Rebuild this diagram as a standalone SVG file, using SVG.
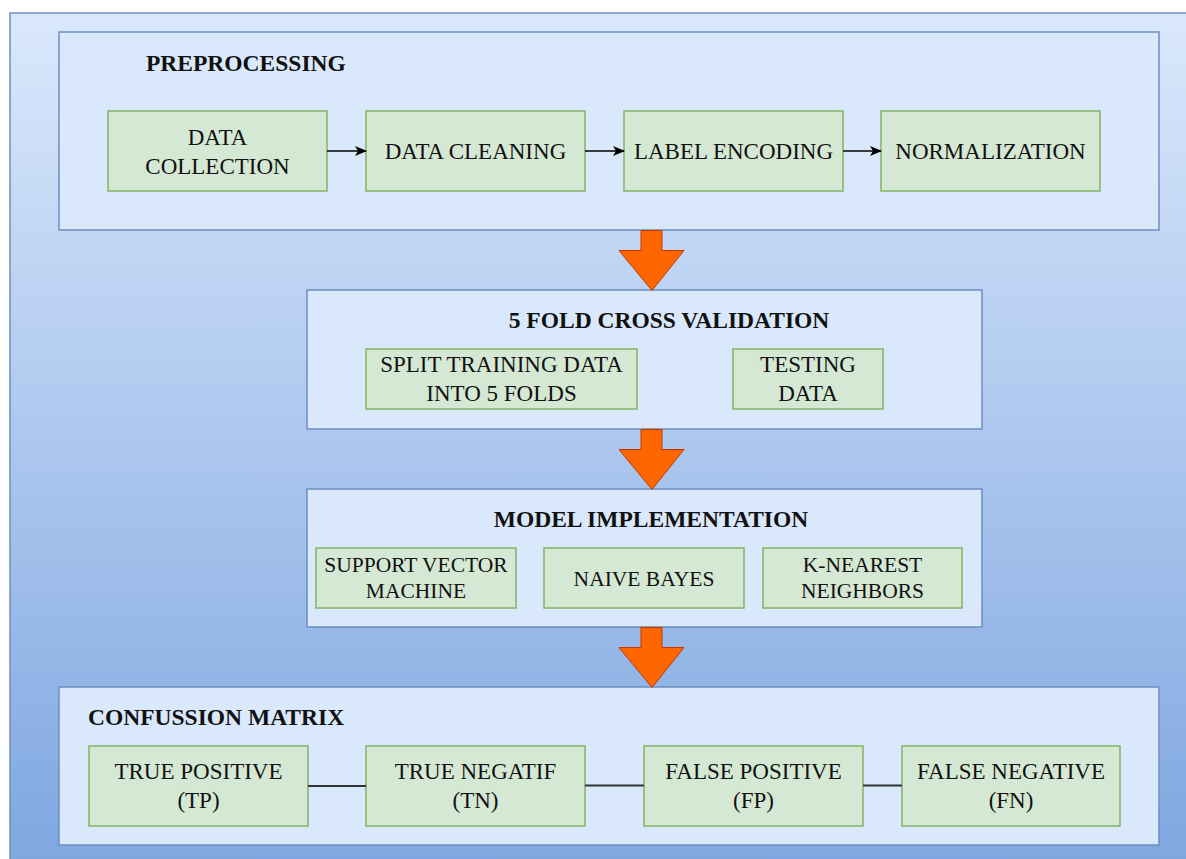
<svg xmlns="http://www.w3.org/2000/svg" width="1186" height="859" viewBox="0 0 1186 859">
<defs>
<linearGradient id="bg" x1="0" y1="0" x2="0" y2="1">
<stop offset="0" stop-color="#dae8fc"/>
<stop offset="1" stop-color="#7ea6e0"/>
</linearGradient>
<marker id="arr" viewBox="0 0 12 10" refX="11" refY="5" markerWidth="12" markerHeight="10" markerUnits="userSpaceOnUse" orient="auto">
<path d="M0,0 L12,5 L0,10 L3,5 Z" fill="#000"/>
</marker>
<polygon id="bigArrow" points="-11,0 10,0 10,20 32,20 0,60 -33,20 -11,20" fill="#ff6600" stroke="#c73500" stroke-width="1"/>
</defs>
<style>
.cont{fill:#dae8fc;stroke:#6c8ebf;stroke-width:1.5}
.box{fill:#d5e8d4;stroke:#82b366;stroke-width:1.5}
.t{font-family:"Liberation Serif","Times New Roman",serif;font-size:23px;fill:#111;text-anchor:middle}
.s{font-size:21.5px}
.h{font-family:"Liberation Serif","Times New Roman",serif;font-size:23.5px;font-weight:bold;fill:#111}
.c{stroke:#000;stroke-width:1.5;fill:none}
.ln{stroke:#333;stroke-width:2;fill:none}
</style>
<rect x="10" y="13" width="1190" height="860" fill="url(#bg)" stroke="#6c8ebf" stroke-width="1.5"/>

<g id="preprocessing">
<rect class="cont" x="59" y="32" width="1100" height="198"/>
<text class="h" x="146" y="71">PREPROCESSING</text>
</g>
<g id="data-collection">
<rect class="box" x="108" y="111" width="219" height="80"/>
<text class="t" x="217.5" y="145">DATA</text>
<text class="t" x="217.5" y="174">COLLECTION</text>
</g>
<g id="data-cleaning">
<rect class="box" x="366" y="111" width="219" height="80"/>
<text class="t" x="475.5" y="159">DATA CLEANING</text>
</g>
<g id="label-encoding">
<rect class="box" x="624" y="111" width="219" height="80"/>
<text class="t" x="733.5" y="159">LABEL ENCODING</text>
</g>
<g id="normalization">
<rect class="box" x="881" y="111" width="219" height="80"/>
<text class="t" x="990.5" y="159">NORMALIZATION</text>
</g>

<g id="cross-validation">
<rect class="cont" x="307" y="290" width="675" height="139"/>
<text class="h" x="669" y="328" text-anchor="middle">5 FOLD CROSS VALIDATION</text>
</g>
<g id="split-training">
<rect class="box" x="366" y="349" width="271" height="60"/>
<text class="t" x="501.5" y="372">SPLIT TRAINING DATA</text>
<text class="t" x="501.5" y="401">INTO 5 FOLDS</text>
</g>
<g id="testing-data">
<rect class="box" x="733" y="349" width="150" height="60"/>
<text class="t" x="808" y="372">TESTING</text>
<text class="t" x="808" y="401">DATA</text>
</g>

<g id="model-implementation">
<rect class="cont" x="307" y="489" width="675" height="138"/>
<text class="h" x="651" y="527" text-anchor="middle">MODEL IMPLEMENTATION</text>
</g>
<g id="svm">
<rect class="box" x="316" y="548" width="200" height="60"/>
<text class="t s" x="416" y="572">SUPPORT VECTOR</text>
<text class="t s" x="416" y="598">MACHINE</text>
</g>
<g id="naive-bayes">
<rect class="box" x="544" y="548" width="200" height="60"/>
<text class="t s" x="644" y="586">NAIVE BAYES</text>
</g>
<g id="knn">
<rect class="box" x="763" y="548" width="199" height="60"/>
<text class="t s" x="862.5" y="572">K-NEAREST</text>
<text class="t s" x="862.5" y="598">NEIGHBORS</text>
</g>

<g id="confusion-matrix">
<rect class="cont" x="59" y="687" width="1100" height="158"/>
<text class="h" x="88" y="725">CONFUSSION MATRIX</text>
</g>
<g id="true-positive">
<rect class="box" x="89" y="746" width="219" height="80"/>
<text class="t" x="198.5" y="779">TRUE POSITIVE</text>
<text class="t" x="198.5" y="808">(TP)</text>
</g>
<g id="true-negatif">
<rect class="box" x="366" y="746" width="219" height="80"/>
<text class="t" x="475.5" y="779">TRUE NEGATIF</text>
<text class="t" x="475.5" y="808">(TN)</text>
</g>
<g id="false-positive">
<rect class="box" x="644" y="746" width="219" height="80"/>
<text class="t" x="753.5" y="779">FALSE POSITIVE</text>
<text class="t" x="753.5" y="808">(FP)</text>
</g>
<g id="false-negative">
<rect class="box" x="902" y="746" width="218" height="80"/>
<text class="t" x="1011" y="779">FALSE NEGATIVE</text>
<text class="t" x="1011" y="808">(FN)</text>
</g>

<g id="connectors">
<line class="c" x1="327" y1="151" x2="366" y2="151" marker-end="url(#arr)"/>
<line class="c" x1="585" y1="151" x2="624" y2="151" marker-end="url(#arr)"/>
<line class="c" x1="843" y1="151" x2="881" y2="151" stroke="#444" marker-end="url(#arr)"/>
<use href="#bigArrow" x="652" y="230.5"/>
<use href="#bigArrow" x="652" y="429.5"/>
<use href="#bigArrow" x="652" y="627.5"/>
<line class="ln" x1="308" y1="786" x2="366" y2="786"/>
<line class="ln" x1="585" y1="785.5" x2="644" y2="785.5" stroke="#555"/>
<line class="ln" x1="863" y1="785.5" x2="902" y2="785.5"/>
</g>
</svg>
